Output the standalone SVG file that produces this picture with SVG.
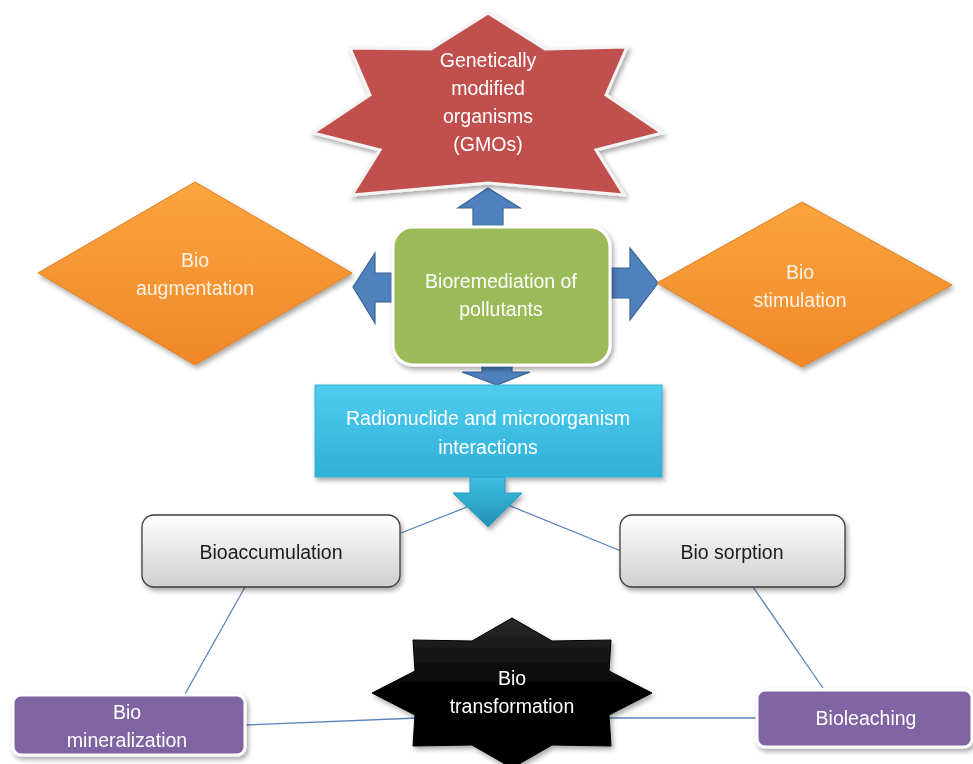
<svg xmlns="http://www.w3.org/2000/svg" width="973" height="764" viewBox="0 0 973 764">
<defs>
<style>
.t{font-family:"Liberation Sans",Arial,sans-serif;font-size:19.5px;text-anchor:middle;dominant-baseline:central}
.w{fill:#ffffff}
.c{fill:#fdf3e6}
.k{fill:#1a1a1a}
.arr{fill:#4f81bd;stroke:#3a6397;stroke-width:1.2}
.link{stroke:#5b84bd;stroke-width:1.3;fill:none}
</style>
<filter id="sh" x="-20%" y="-20%" width="140%" height="140%">
<feDropShadow dx="2" dy="3" stdDeviation="2.5" flood-color="#000" flood-opacity="0.35"/>
</filter>
<linearGradient id="gOr" x1="0" y1="0" x2="0" y2="1">
<stop offset="0" stop-color="#fba43c"/><stop offset="1" stop-color="#f0882a"/>
</linearGradient>
<linearGradient id="gCy" x1="0" y1="0" x2="0" y2="1">
<stop offset="0" stop-color="#4fcdf0"/><stop offset="1" stop-color="#2fb0d8"/>
</linearGradient>
<linearGradient id="gCyA" x1="0" y1="0" x2="0" y2="1">
<stop offset="0" stop-color="#3dbfe4"/><stop offset="1" stop-color="#2390b3"/>
</linearGradient>
<linearGradient id="gGr" x1="0" y1="0" x2="0" y2="1">
<stop offset="0" stop-color="#ffffff"/><stop offset="1" stop-color="#cfcfcf"/>
</linearGradient>
<linearGradient id="gBk" x1="0" y1="0" x2="0" y2="1">
<stop offset="0" stop-color="#2a2a2a"/><stop offset="0.5" stop-color="#000"/><stop offset="1" stop-color="#000"/>
</linearGradient>
</defs>
<rect width="973" height="764" fill="#ffffff"/>

<g id="connectors">
<line class="link" x1="467" y1="507" x2="401" y2="533"/>
<line class="link" x1="508" y1="505" x2="621" y2="551"/>
<line class="link" x1="245" y1="587" x2="185" y2="694"/>
<line class="link" x1="246" y1="725" x2="418" y2="718"/>
<line class="link" x1="610" y1="718" x2="757" y2="718"/>
<line class="link" x1="753" y1="587" x2="823" y2="688"/>
<polygon class="arr" points="473,227 473,208 458,208 488,188 520,208 503,208 503,227"/>
<polygon class="arr" points="392,273 375,273 375,253 353,287 375,323 375,302 392,302"/>
<polygon class="arr" points="610,268 630,268 630,248 658,283 630,320 630,298 610,298"/>
<polygon class="arr" points="482,363 512,363 512,372 530,372 497,385 462,372 482,372"/>
</g>

<g id="gmo" filter="url(#sh)">
<polygon points="488,13 545,49 627,47 606,95 662,133 596,150 624,195 488,183 352,195 380,150 313,133 370,95 350,48 431,49" fill="#c0504d" stroke="#f4f4f4" stroke-width="3" stroke-linejoin="miter"/>
<text class="t w" x="488" y="60">Genetically</text>
<text class="t w" x="488" y="88">modified</text>
<text class="t w" x="488" y="116">organisms</text>
<text class="t w" x="488" y="144">(GMOs)</text>
</g>

<g id="augmentation" filter="url(#sh)">
<polygon points="195,182 352,273 195,365 38,273" fill="url(#gOr)" stroke="#e07f22" stroke-width="1"/>
<text class="t c" x="195" y="260">Bio</text>
<text class="t c" x="195" y="288">augmentation</text>
</g>

<g id="stimulation" filter="url(#sh)">
<polygon points="802,202 952,285 802,367 657,283" fill="url(#gOr)" stroke="#e07f22" stroke-width="1"/>
<text class="t c" x="800" y="272">Bio</text>
<text class="t c" x="800" y="300">stimulation</text>
</g>

<g id="bioremediation" filter="url(#sh)">
<rect x="393" y="227" width="217" height="138" rx="20" fill="#9bbb59" stroke="#ffffff" stroke-width="3"/>
<text class="t w" x="501" y="281">Bioremediation  of</text>
<text class="t w" x="501" y="309">pollutants</text>
</g>

<g id="interactions" filter="url(#sh)">
<rect x="315" y="385" width="347" height="92" fill="url(#gCy)" stroke="#3aaed2" stroke-width="1"/>
<text class="t w" x="488" y="418">Radionuclide and microorganism</text>
<text class="t w" x="488" y="447">interactions</text>
<polygon points="470,477 505,477 505,493 522,493 488,527 453,493 470,493" fill="url(#gCyA)" stroke="#2a9bc0" stroke-width="1"/>
</g>

<g id="bioaccumulation" filter="url(#sh)">
<rect x="142" y="515" width="258" height="72" rx="12" fill="url(#gGr)" stroke="#3c3c3c" stroke-width="1.3"/>
<text class="t k" x="271" y="552">Bioaccumulation</text>
</g>

<g id="biosorption" filter="url(#sh)">
<rect x="620" y="515" width="225" height="72" rx="12" fill="url(#gGr)" stroke="#3c3c3c" stroke-width="1.3"/>
<text class="t k" x="732" y="552">Bio sorption</text>
</g>

<g id="biotransformation" filter="url(#sh)">
<polygon points="512,618 552,641 611,640 609,671 652,693 609,715 611,746 552,745 512,768 472,745 413,746 415,715 372,693 415,671 413,640 472,641" fill="url(#gBk)" stroke="#000" stroke-width="1"/>
<text class="t w" x="512" y="678">Bio</text>
<text class="t w" x="512" y="706">transformation</text>
</g>

<g id="biomineralization" filter="url(#sh)">
<rect x="13" y="695" width="232" height="60" rx="8" fill="#8064a2" stroke="#ffffff" stroke-width="3"/>
<text class="t w" x="127" y="712">Bio</text>
<text class="t w" x="127" y="740">mineralization</text>
</g>

<g id="bioleaching" filter="url(#sh)">
<rect x="757" y="690" width="215" height="57" rx="8" fill="#8064a2" stroke="#ffffff" stroke-width="3"/>
<text class="t w" x="866" y="718">Bioleaching</text>
</g>
</svg>
